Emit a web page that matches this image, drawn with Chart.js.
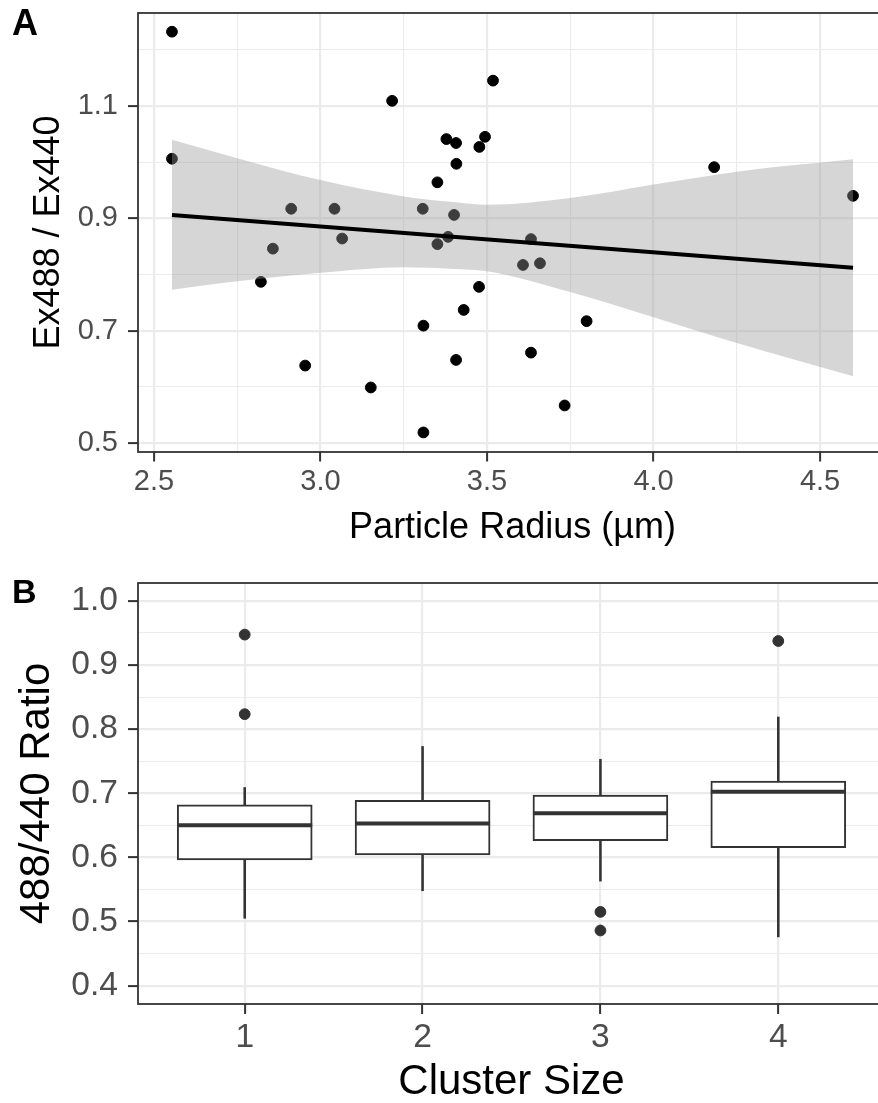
<!DOCTYPE html>
<html>
<head>
<meta charset="utf-8">
<script src="https://cdn.jsdelivr.net/npm/chart.js@4.4.1/dist/chart.umd.min.js"></script>
<style>
html, body { margin: 0; padding: 0; background: #ffffff; overflow: hidden; }
#wrap { position: relative; width: 878px; height: 1103px; overflow: hidden; background: #ffffff; }
#wrap canvas { position: absolute; left: 0; }
#ca { top: 0; }
#cb { top: 570px; }
</style>
</head>
<body>
<div id="wrap">
  <canvas id="ca" width="890" height="570"></canvas>
  <canvas id="cb" width="890" height="533"></canvas>
</div>
<script>
// ---------- Panel A data ----------
const particleRadius = [2.554, 2.554, 3.518, 3.215, 3.378, 3.407, 3.494, 3.477, 3.408, 3.351,
                        4.182, 4.599, 2.912, 3.042, 3.307, 3.401, 3.065, 2.857, 3.351, 3.383,
                        3.632, 3.608, 3.659, 2.821, 3.476, 3.430, 3.309, 3.799, 2.954, 3.407,
                        3.632, 3.151, 3.733, 3.309];
const exRatio = [1.232, 1.006, 1.145, 1.109, 1.041, 1.034, 1.045, 1.027, 0.997, 0.964,
                 0.991, 0.940, 0.917, 0.917, 0.917, 0.906, 0.864, 0.846, 0.854, 0.867,
                 0.863, 0.817, 0.820, 0.787, 0.778, 0.737, 0.709, 0.717, 0.638, 0.648,
                 0.661, 0.599, 0.567, 0.519];
const fitX = [2.554, 4.599];
const fitY = [0.906, 0.812];
const bandX = [2.554, 2.75, 3.0, 3.25, 3.4, 3.5, 3.75, 4.0, 4.25, 4.599];
const bandUpper = [1.040, 1.007, 0.968, 0.939, 0.929, 0.924, 0.936, 0.960, 0.983, 1.005];
const bandLower = [0.773, 0.788, 0.803, 0.813, 0.810, 0.806, 0.769, 0.724, 0.678, 0.619];
const radiusTicks = [2.5, 3.0, 3.5, 4.0, 4.5];
const radiusMinor = [2.75, 3.25, 3.75, 4.25];
const exRatioTicks = [0.5, 0.7, 0.9, 1.1];
const exRatioMinor = [0.6, 0.8, 1.0, 1.2];

// ---------- Panel B data ----------
const clusterSize = [1, 2, 3, 4];
const boxQ1 = [0.596, 0.604, 0.626, 0.615];
const boxMedian = [0.650, 0.653, 0.669, 0.7025];
const boxQ3 = [0.682, 0.689, 0.697, 0.719];
const whiskerLow = [0.505, 0.548, 0.563, 0.476];
const whiskerHigh = [0.709, 0.773, 0.753, 0.819];
const outlierCluster = [1, 1, 3, 3, 4];
const outlierRatio = [0.9475, 0.8234, 0.515, 0.486, 0.9375];
const ratioTicks = [0.4, 0.5, 0.6, 0.7, 0.8, 0.9, 1.0];
const ratioMinor = [0.45, 0.55, 0.65, 0.75, 0.85, 0.95];

// ---------- helpers ----------
const FONT = "'Liberation Sans', Arial, Helvetica, sans-serif";
function makeTicks(major, minor) {
  return major.map(v => ({ value: v, minor: false }))
    .concat(minor.map(v => ({ value: v, minor: true })));
}
function isMinor(c) { return !!(c && c.tick && c.tick.minor); }
function gridOpts(tickLen) {
  return {
    color: '#EBEBEB',
    lineWidth: c => isMinor(c) ? 1.1 : 2.2,
    drawTicks: true,
    tickLength: tickLen,
    tickWidth: 2,
    tickColor: c => isMinor(c) ? 'rgba(0,0,0,0)' : '#333333'
  };
}
const tickLabel = (v, i, ticks) => (ticks[i] && ticks[i].minor) ? '' : Number(v).toFixed(1);
const tickLabelInt = (v, i, ticks) => (ticks[i] && ticks[i].minor) ? '' : String(v);
function fixWidth(w) {
  return s => { s.width = w; s.paddingTop = 0; s.paddingBottom = 0; s.paddingLeft = 0; s.paddingRight = 0; };
}
function fixHeight(h) {
  return s => { s.height = h; s.paddingTop = 0; s.paddingBottom = 0; s.paddingLeft = 0; s.paddingRight = 0; };
}

const panelDecor = {
  id: 'panelDecor',
  afterDatasetsDraw(chart, args, opts) {
    const { ctx, chartArea: a } = chart;
    ctx.save();
    ctx.strokeStyle = '#333333';
    ctx.lineWidth = 1.8;
    ctx.strokeRect(a.left, a.top, a.right - a.left, a.bottom - a.top);
    ctx.restore();
  },
  afterDraw(chart, args, opts) {
    const ctx = chart.ctx;
    ctx.save();
    ctx.fillStyle = '#000000';
    ctx.font = opts.font;
    ctx.textBaseline = 'alphabetic';
    ctx.textAlign = 'left';
    ctx.fillText(opts.tag, opts.x, opts.y);
    ctx.restore();
  }
};

// ---------- Panel A ----------
const tickFontA = { family: FONT, size: 29, lineHeight: 1 };
const titleFontA = { family: FONT, size: 36, lineHeight: 1 };

new Chart(document.getElementById('ca'), {
  type: 'scatter',
  data: {
    datasets: [
      {
        label: 'points',
        data: particleRadius.map((x, i) => ({ x: x, y: exRatio[i] })),
        backgroundColor: '#000000',
        borderColor: '#000000',
        borderWidth: 1,
        pointRadius: 5.4,
        order: 3
      },
      {
        label: 'band upper',
        data: bandX.map((x, i) => ({ x: x, y: bandUpper[i] })),
        showLine: true,
        cubicInterpolationMode: 'monotone',
        borderColor: 'rgba(0,0,0,0)',
        borderWidth: 1,
        pointRadius: 0,
        backgroundColor: 'rgba(153,153,153,0.4)',
        fill: '+1',
        order: 2
      },
      {
        label: 'band lower',
        data: bandX.map((x, i) => ({ x: x, y: bandLower[i] })),
        showLine: true,
        cubicInterpolationMode: 'monotone',
        borderColor: 'rgba(0,0,0,0)',
        borderWidth: 1,
        pointRadius: 0,
        fill: false,
        order: 2
      },
      {
        label: 'fit',
        data: fitX.map((x, i) => ({ x: x, y: fitY[i] })),
        showLine: true,
        borderColor: '#000000',
        borderWidth: 4,
        pointRadius: 0,
        fill: false,
        order: 1
      }
    ]
  },
  options: {
    responsive: false,
    animation: false,
    devicePixelRatio: 1,
    events: [],
    layout: { autoPadding: false, padding: { left: 0, top: 13, right: 3, bottom: 0 } },
    plugins: {
      legend: { display: false },
      tooltip: { enabled: false },
      panelDecor: { tag: 'A', x: 12, y: 35, font: 'bold 36px ' + FONT }
    },
    scales: {
      x: {
        type: 'linear', min: 2.452, max: 4.701, bounds: 'data', offset: false,
        afterBuildTicks: s => { s.ticks = makeTicks(radiusTicks, radiusMinor); },
        afterFit: fixHeight(118),
        ticks: { autoSkip: false, maxRotation: 0, padding: 5.5, font: tickFontA, color: '#4D4D4D', callback: tickLabel },
        grid: gridOpts(9.5),
        border: { display: false },
        title: { display: true, text: 'Particle Radius (µm)', font: titleFontA, color: '#000000', padding: { top: 0, bottom: 24 } }
      },
      y: {
        type: 'linear', min: 0.4842, max: 1.2653, bounds: 'data',
        afterBuildTicks: s => { s.ticks = makeTicks(exRatioTicks, exRatioMinor); },
        afterFit: fixWidth(138),
        ticks: { autoSkip: false, padding: 10, font: tickFontA, color: '#4D4D4D', callback: tickLabel },
        grid: gridOpts(10),
        border: { display: false },
        title: { display: true, text: 'Ex488 / Ex440', font: titleFontA, color: '#000000', padding: { top: 31, bottom: 0 } }
      }
    }
  },
  plugins: [panelDecor]
});

// ---------- Panel B ----------
const tickFontB = { family: FONT, size: 33.6, lineHeight: 1 };
const titleFontB = { family: FONT, size: 42, lineHeight: 1 };

new Chart(document.getElementById('cb'), {
  type: 'bar',
  data: {
    datasets: [
      {
        type: 'bar', label: 'lower whisker',
        data: clusterSize.map((c, i) => ({ x: c, y: [whiskerLow[i], boxQ1[i]] })),
        backgroundColor: '#333333', borderWidth: 0, barThickness: 1.9, grouped: false, order: 4
      },
      {
        type: 'bar', label: 'upper whisker',
        data: clusterSize.map((c, i) => ({ x: c, y: [boxQ3[i], whiskerHigh[i]] })),
        backgroundColor: '#333333', borderWidth: 0, barThickness: 1.9, grouped: false, order: 4
      },
      {
        type: 'bar', label: 'box',
        data: clusterSize.map((c, i) => ({ x: c, y: [boxQ1[i], boxQ3[i]] })),
        backgroundColor: '#FFFFFF', borderColor: '#333333', borderWidth: 2,
        borderSkipped: false, barThickness: 135, grouped: false, order: 3
      },
      {
        type: 'scatter', label: 'median',
        data: clusterSize.map((c, i) => ({ x: c, y: boxMedian[i] })),
        pointStyle: 'line', pointRadius: 67.5, borderColor: '#333333', borderWidth: 4, order: 2
      },
      {
        type: 'scatter', label: 'outliers',
        data: outlierCluster.map((c, i) => ({ x: c, y: outlierRatio[i] })),
        backgroundColor: '#333333', borderColor: '#333333', borderWidth: 1, pointRadius: 5.4, order: 1
      }
    ]
  },
  options: {
    responsive: false,
    animation: false,
    devicePixelRatio: 1,
    events: [],
    layout: { autoPadding: false, padding: { left: 0, top: 13, right: 5, bottom: 0 } },
    plugins: {
      legend: { display: false },
      tooltip: { enabled: false },
      panelDecor: { tag: 'B', x: 12, y: 33, font: 'bold 34px ' + FONT }
    },
    scales: {
      x: {
        type: 'linear', min: 0.4, max: 4.6, bounds: 'data', offset: false,
        afterBuildTicks: s => { s.ticks = makeTicks(clusterSize, []); },
        afterFit: fixHeight(99),
        ticks: { autoSkip: false, maxRotation: 0, padding: 6.7, font: tickFontB, color: '#4D4D4D', callback: tickLabelInt },
        grid: Object.assign(gridOpts(10), { offset: false }),
        border: { display: false },
        title: { display: true, text: 'Cluster Size', font: titleFontB, color: '#000000', padding: { top: 0, bottom: 0 } }
      },
      y: {
        type: 'linear', min: 0.3713, max: 1.028, bounds: 'data', beginAtZero: false,
        afterBuildTicks: s => { s.ticks = makeTicks(ratioTicks, ratioMinor); },
        afterFit: fixWidth(138),
        ticks: { autoSkip: false, padding: 10, font: tickFontB, color: '#4D4D4D', callback: tickLabel },
        grid: gridOpts(10),
        border: { display: false },
        title: { display: true, text: '488/440 Ratio', font: titleFontB, color: '#000000', padding: { top: 16, bottom: 0 } }
      }
    }
  },
  plugins: [panelDecor]
});
</script>
</body>
</html>
